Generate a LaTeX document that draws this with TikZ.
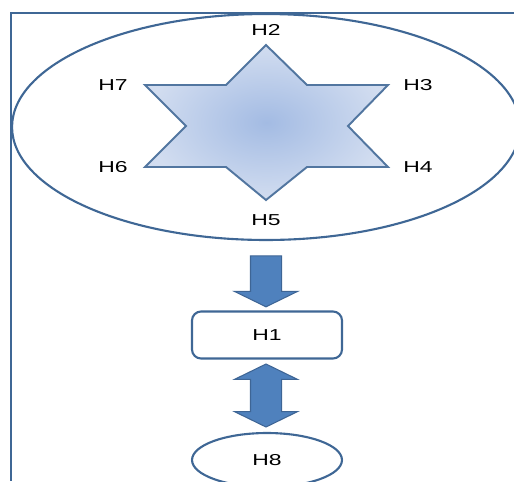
\documentclass[tikz,border=0pt]{standalone}
\usepackage{fontspec}
\setmainfont{Liberation Sans}
\newfontfamily\widefont[FakeStretch=1.45]{Liberation Sans}
\usepackage{tikz}
\usetikzlibrary{arrows.meta, positioning, shapes.geometric, shapes.arrows}
\definecolor{steel}{HTML}{3F6795}
\definecolor{arrowblue}{HTML}{4F81BD}
\definecolor{arrowedge}{HTML}{3E6595}
\definecolor{starin}{HTML}{A3BBE3}
\definecolor{starout}{HTML}{D2DDF0}

\begin{document}
\begin{tikzpicture}[
      x=0.02cm, y=-0.02cm,
      frame/.style={draw=steel, line width=1.6pt},
      hub/.style={ellipse, draw=steel, line width=1.2pt, minimum width=10.16cm,
                  minimum height=4.52cm},
      lbl/.style={font=\widefont\fontsize{9}{10}\selectfont, inner sep=0pt},
      box/.style={rectangle, draw=steel, line width=1.2pt, rounded corners=0.18cm,
                  minimum width=3cm, minimum height=0.94cm, lbl},
      leaf/.style={ellipse, draw=steel, line width=1.2pt, minimum width=3cm,
                   minimum height=1.08cm, lbl},
      blk/.style={fill=arrowblue, draw=arrowedge, line width=0.6pt, inner xsep=0pt,
                  inner ysep=0.3cm, rotate=-90},
      starfill/.style={draw=steel!90, line width=1.1pt, shading=radial,
                       inner color=starin, outer color=starout}
    ]
    \useasboundingbox (0,0) rectangle (514,481);

    % Frame
    \draw[frame] (514,13) -| (11,481);

    % Star group
    \node[hub] (group) at (266,127) {};
    \draw[starfill] (266,45) -- (307,85) -- (388,85) -- (348,126) -- (388,167)
      -- (307,167) -- (266,200) -- (226,167) -- (145,167) -- (186,126)
      -- (145,85) -- (226,85) -- cycle;
    \node[lbl] (h2) at (266,30) {H2};
    \node[lbl] (h3) at (418,85) {H3};
    \node[lbl] (h4) at (418,167) {H4};
    \node[lbl] (h5) at (266,220) {H5};
    \node[lbl] (h6) at (113,167) {H6};
    \node[lbl] (h7) at (113,85) {H7};

    % Lower chain
    \node[box] (h1) at (267,335) {H1};
    \node[leaf] (h8) at (267,460) {H8};

    \node[blk, single arrow, single arrow head extend=0.32cm,
          single arrow tip angle=128, minimum height=1.02cm] (down) at (266,277.5) {};
    \node[blk, double arrow, double arrow head extend=0.32cm,
          double arrow tip angle=128, minimum height=1.26cm] (link) at (266,395.5) {};
  \end{tikzpicture}
\end{document}
